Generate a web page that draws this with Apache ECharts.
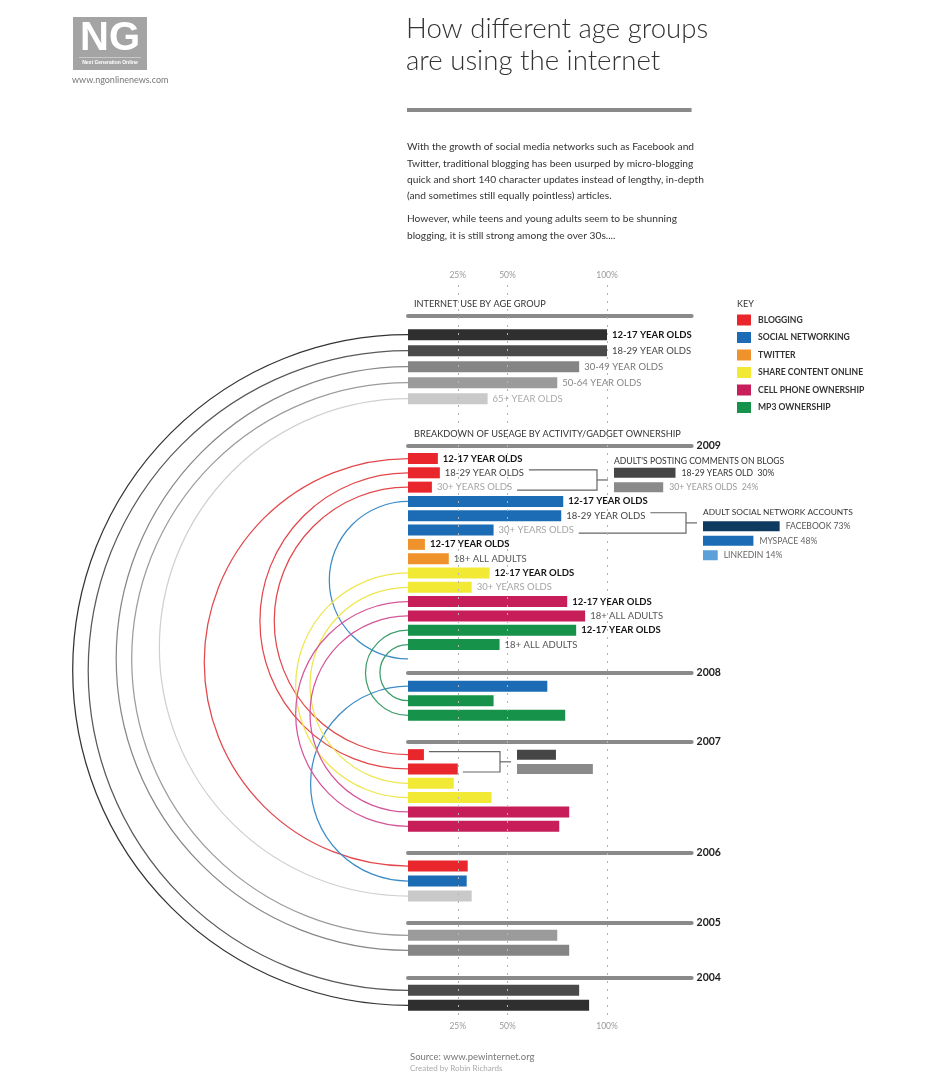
<!DOCTYPE html>
<html><head><meta charset="utf-8">
<script src="https://cdn.jsdelivr.net/npm/echarts@6/dist/echarts.min.js"></script>
<style>html,body{margin:0;padding:0;background:#fff}#c{width:947px;height:1081px}</style>
</head><body><div id="c"></div>
<script>
// ---------------- DATA ----------------
const gridTicks = [25, 50, 100];

const ageGroups = ['12-17 YEAR OLDS','18-29 YEAR OLDS','30-49 YEAR OLDS','50-64 YEAR OLDS','65+ YEAR OLDS'];
const kindsInternet = ['a1217','a1829','a3049','a5064','a65'];
const internetUse = [100, 100, 86, 75, 40];

const activities = ['BLOGGING','SOCIAL NETWORKING','TWITTER','SHARE CONTENT ONLINE','CELL PHONE OWNERSHIP','MP3 OWNERSHIP'];
const activityKinds = ['blog','social','twitter','share','cell','mp3'];

const groups2009 = ['12-17 YEAR OLDS','18-29 YEAR OLDS','30+ YEARS OLDS',
  '12-17 YEAR OLDS','18-29 YEAR OLDS','30+ YEARS OLDS',
  '12-17 YEAR OLDS','18+ ALL ADULTS',
  '12-17 YEAR OLDS','30+ YEARS OLDS',
  '12-17 YEAR OLDS','18+ ALL ADULTS',
  '12-17 YEAR OLDS','18+ ALL ADULTS', ''];
const kinds2009 = ['blog','blog','blog','social','social','social','twitter','twitter','share','share','cell','cell','mp3','mp3', null];
const values2009 = [15, 16, 12, 78, 77, 43, 8.5, 20.5, 41, 32, 80, 89, 84.5, 46, null];

const kinds2008 = ['social','mp3','mp3'];
const values2008 = [70, 43, 79];

const kinds2007 = ['blog','blog','share','share','cell','cell'];
const values2007 = [8, 25, 23, 42, 81, 76];

const kinds2006 = ['blog','social','a65'];
const values2006 = [30, 29.5, 32];

const kinds2005 = ['a5064','a3049'];
const values2005 = [75, 81];

const kinds2004 = ['a1829','a1217'];
const values2004 = [86, 91];

// Adults posting comments on blogs (2009) and the unlabeled 2007 pair
const commentGroups = ['18-29 YEARS OLD','30+ YEARS OLDS'];
const comments2009 = [30, 24];
const comments2007 = [19, 37];

const networkNames = ['FACEBOOK','MYSPACE','LINKEDIN'];
const networkShare = [73, 48, 14];

// links: [fromSection, fromRow, toSection, toRow, kind]
const arcLinks = [
  ['internet',0,'y2004',1,'a1217'],
  ['internet',1,'y2004',0,'a1829'],
  ['internet',2,'y2005',1,'a3049'],
  ['internet',3,'y2005',0,'a5064'],
  ['internet',4,'y2006',2,'a65'],
  ['y2009',0,'y2006',0,'blog'],
  ['y2009',1,'y2007',1,'blog'],
  ['y2009',2,'y2007',0,'blog'],
  ['y2009',3,'y2009',14,'social'],
  ['y2008',0,'y2006',1,'social'],
  ['y2009',8,'y2007',3,'share'],
  ['y2009',9,'y2007',2,'share'],
  ['y2009',10,'y2007',5,'cell'],
  ['y2009',11,'y2007',4,'cell'],
  ['y2009',12,'y2008',2,'mp3'],
  ['y2009',13,'y2008',1,'mp3']
];

// ---------------- STYLE / LAYOUT ----------------
const FONT = 'Lato, "Noto Sans", sans-serif';
const barColor = {a1217:'#2f2f2f', a1829:'#4a4a4a', a3049:'#858585', a5064:'#9b9b9b', a65:'#c9c9c9',
  blog:'#e8262b', social:'#1b6cb5', twitter:'#f0922b', share:'#f2e935', cell:'#c71d59', mp3:'#17924a'};
const arcColor = {a1217:'#333333', a1829:'#595959', a3049:'#878787', a5064:'#9c9c9c', a65:'#d0d0d0',
  blog:'#e3474b', social:'#3d8cc6', share:'#eee64e', cell:'#d4569a', mp3:'#3c9e6c'};
function labelStyle(t){
  if (t.indexOf('12-17') === 0) return {color:'#151515', fontWeight:'bold'};
  if (t.indexOf('18-29') === 0) return {color:'#444', fontWeight:'normal'};
  if (t.indexOf('30-49') === 0) return {color:'#777', fontWeight:'normal'};
  if (t.indexOf('50-64') === 0) return {color:'#888', fontWeight:'normal'};
  if (t.indexOf('65+') === 0) return {color:'#aaa', fontWeight:'normal'};
  if (t.indexOf('18+') === 0) return {color:'#555', fontWeight:'normal'};
  return {color:'#a5a5a5', fontWeight:'normal'};
}
const LABEL_SIZE = 9.5;
const LEFT = 408, X_MAX = 142.5, WIDTH = 283.6;

const sections = [
  {key:'internet', year:'',     kinds:kindsInternet, values:internetUse, labels:ageGroups, top:326.7, step:16.0, lineOffset:10.7},
  {key:'y2009',    year:'2009', kinds:kinds2009, values:values2009, labels:groups2009, top:451.35, step:14.31, lineOffset:5.6},
  {key:'y2008',    year:'2008', kinds:kinds2008, values:values2008, labels:null, top:678.9, step:14.55, lineOffset:6.2},
  {key:'y2007',    year:'2007', kinds:kinds2007, values:values2007, labels:null, top:747.5, step:14.32, lineOffset:6.2},
  {key:'y2006',    year:'2006', kinds:kinds2006, values:values2006, labels:null, top:858.5, step:15, lineOffset:5.8},
  {key:'y2005',    year:'2005', kinds:kinds2005, values:values2005, labels:null, top:927.8, step:15, lineOffset:5.1},
  {key:'y2004',    year:'2004', kinds:kinds2004, values:values2004, labels:null, top:982.8, step:15, lineOffset:5.1}
];
const secIndex = {};
sections.forEach((s,i)=>secIndex[s.key]=i);

const grids = [], xAxes = [], yAxes = [], series = [];

sections.forEach((s, i) => {
  const n = s.values.length;
  grids.push({left:LEFT, top:s.top, width:WIDTH, height:s.step*n});
  xAxes.push({gridIndex:i, type:'value', min:0, max:X_MAX, position:'top', offset:s.lineOffset,
    axisLine:{show:true, lineStyle:{color:'#8a8a8a', width:4}}, axisTick:{show:false}, axisLabel:{show:false}, splitLine:{show:false},
    name:s.year, nameLocation:'end', nameGap:5,
    nameTextStyle:{fontFamily:FONT, fontSize:10.5, fontWeight:'bold', color:'#222', verticalAlign:'middle'}});
  yAxes.push({gridIndex:i, type:'category', inverse:true, data:s.values.map((v,j)=>String(j)), show:false});
  series.push({type:'bar', xAxisIndex:i, yAxisIndex:i, barWidth:11, z:3,
    label:{show:!!s.labels, position:'right', distance:5, fontFamily:FONT, fontSize:LABEL_SIZE,
      formatter: p => s.labels ? (s.labels[p.dataIndex] || '') : ''},
    data: s.values.map((v,j)=>{
      const item = {value:v, itemStyle:{color: s.kinds[j] ? barColor[s.kinds[j]] : 'transparent'}};
      if (s.labels) item.label = labelStyle(s.labels[j]);
      return item;
    })
  });
});

// background grid for the dotted reference lines & scale labels
const BG = grids.length;
grids.push({left:LEFT, top:285, width:WIDTH, height:730});
const tickFmt = v => gridTicks.indexOf(v) >= 0 ? v + '%' : '';
xAxes.push({gridIndex:BG, type:'value', min:0, max:X_MAX, interval:25, position:'top',
  axisLine:{show:false}, axisTick:{show:false}, splitLine:{show:false},
  axisLabel:{formatter:tickFmt, color:'#9a9a9a', fontSize:8.5, fontFamily:FONT, margin:5, showMaxLabel:false}});
xAxes.push({gridIndex:BG, type:'value', min:0, max:X_MAX, interval:25, position:'bottom',
  axisLine:{show:false}, axisTick:{show:false}, splitLine:{show:false},
  axisLabel:{formatter:tickFmt, color:'#9a9a9a', fontSize:8.5, fontFamily:FONT, margin:7, showMaxLabel:false}});
yAxes.push({gridIndex:BG, type:'value', min:0, max:1, show:false});
series.push({type:'line', xAxisIndex:BG, yAxisIndex:BG, data:[], z:1, silent:true,
  markLine:{silent:true, symbol:['none','none'], label:{show:false},
    lineStyle:{type:[2,6], color:'#b5b5b5', width:1},
    data: gridTicks.map(t=>({xAxis:t}))}});
// legend series
activities.forEach((a,i)=>{
  series.push({type:'line', name:a, xAxisIndex:BG, yAxisIndex:BG, data:[],
    itemStyle:{color:barColor[activityKinds[i]]}, lineStyle:{color:barColor[activityKinds[i]]}});
});

// side mini charts
const sideDefs = [
  {key:'blog09', left:614, width:205, top:sections[1].top + sections[1].step, step:sections[1].step,
   names:commentGroups, values:comments2009, sep:'  ', colors:['#464646','#8a8a8a'], labelColors:['#333','#9a9a9a'], labels:true},
  {key:'social09', left:703, width:105, top:519, step:14.5,
   names:networkNames, values:networkShare, sep:' ', colors:['#0f3a5f','#1b6cb5','#5ba0d8'], labelColors:['#555','#666','#666'], labels:true},
  {key:'blog07', left:517, width:205, top:sections[3].top, step:sections[3].step,
   names:commentGroups, values:comments2007, sep:' ', colors:['#464646','#8a8a8a'], labelColors:['#333','#999'], labels:false}
];
const sideIndex = {};
sideDefs.forEach(d=>{
  const gi = grids.length; sideIndex[d.key] = gi;
  grids.push({left:d.left, top:d.top, width:d.width, height:d.step*d.values.length});
  const xi = xAxes.length;
  xAxes.push({gridIndex:gi, type:'value', min:0, max:100, show:false});
  const yi = yAxes.length;
  yAxes.push({gridIndex:gi, type:'category', inverse:true, data:d.names, show:false});
  series.push({type:'bar', xAxisIndex:xi, yAxisIndex:yi, barWidth:10, z:3,
    label:{show:d.labels, position:'right', distance:6, fontFamily:FONT, fontSize:8.6,
      formatter: p => d.names[p.dataIndex] + d.sep + p.value + '%'},
    data:d.values.map((v,j)=>({value:v, itemStyle:{color:d.colors[j]}, label:{color:d.labelColors[j]}}))});
});

const T = (text, left, top, size, color, extra) => Object.assign({text, left, top, padding:0,
  textStyle:Object.assign({fontFamily:FONT, fontSize:size, color, fontWeight:'normal', lineHeight:size+4}, extra||{})});

const para1 = 'With the growth of social media networks such as Facebook and\nTwitter, traditional blogging has been usurped by micro-blogging\nquick and short 140 character updates instead of lengthy, in-depth\n(and sometimes still equally pointless) articles.';
const para2 = 'However, while teens and young adults seem to be shunning\nblogging, it is still strong among the over 30s....';

const option = {
  animation:false,
  textStyle:{fontFamily:FONT},
  title:[
    T('How different age groups\nare using the internet', 406, 13, 27.6, '#333', {fontWeight:300, lineHeight:32}),
    T(para1, 407, 139, 10.2, '#333', {lineHeight:16.3}),
    T(para2, 407, 211, 10.2, '#333', {lineHeight:16.3}),
    T('INTERNET USE BY AGE GROUP', 414, 297.5, 9.2, '#333'),
    T('BREAKDOWN OF USEAGE BY ACTIVITY/GADGET OWNERSHIP', 414, 427, 9.2, '#333'),
    T('KEY', 737, 297.5, 9, '#333'),
    T("ADULT'S POSTING COMMENTS ON BLOGS", 614, 455, 8.6, '#333'),
    T('ADULT SOCIAL NETWORK ACCOUNTS', 703, 506, 8.4, '#333'),
    T('Source: www.pewinternet.org', 410, 1050.5, 9.5, '#777'),
    T('Created by Robin Richards', 410, 1062.5, 8, '#aaa'),
    T('www.ngonlinenews.com', 72, 74, 9, '#777')
  ],
  legend:{orient:'vertical', left:737, top:314.5, padding:0, itemWidth:14, itemHeight:11, itemGap:6.5, icon:'rect',
    selectedMode:false, data:activities,
    textStyle:{fontFamily:FONT, fontSize:8.6, fontWeight:'bold', color:'#333', padding:[0,0,0,2]}},
  grid:grids, xAxis:xAxes, yAxis:yAxes, series:series
};

const chart = echarts.init(document.getElementById('c'));
chart.setOption(option);

// ---------------- arcs & brackets via the axes ----------------
const ctx = document.createElement('canvas').getContext('2d');
function textW(t, weight, size){ ctx.font = weight + ' ' + size + 'px ' + FONT; return ctx.measureText(t).width; }
function rowPx(key, row, value){ return chart.convertToPixel({gridIndex:secIndex[key]}, [value||0, row]); }

const els = [];
// logo
els.push({type:'rect', shape:{x:73, y:17, width:74, height:53}, style:{fill:'#a4a4a4'}});
els.push({type:'text', style:{text:'NG', x:110, y:39, fill:'#fff', font:'bold 40px "Liberation Sans", Arial, sans-serif', align:'center', verticalAlign:'middle'}});
els.push({type:'line', shape:{x1:79, y1:57.5, x2:141, y2:57.5}, style:{stroke:'#c8c8c8', lineWidth:1}});
els.push({type:'text', style:{text:'Next Generation Online', x:110, y:62.5, fill:'#fff', font:'bold 5px "Liberation Sans", Arial, sans-serif', align:'center', verticalAlign:'middle'}});
// title rule
els.push({type:'line', shape:{x1:407, y1:110, x2:691.6, y2:110}, style:{stroke:'#8a8a8a', lineWidth:4}});

arcLinks.forEach(l=>{
  const a = rowPx(l[0], l[1]), b = rowPx(l[2], l[3]);
  const cy = (a[1]+b[1])/2, r = Math.abs(b[1]-a[1])/2;
  els.push({type:'arc', z:1, silent:true,
    shape:{cx:a[0], cy:cy, r:r, startAngle:Math.PI/2, endAngle:Math.PI*1.5, clockwise:true},
    style:{stroke:arcColor[l[4]], lineWidth:1.25, fill:'none'}});
});

const brackets = [
  {sec:'y2009', rows:[1,2], side:'blog09'},
  {sec:'y2009', rows:[4,5], side:'social09'},
  {sec:'y2007', rows:[0,1], side:'blog07'}
];
brackets.forEach(b=>{
  const s = sections[secIndex[b.sec]];
  const sideLeft = chart.convertToPixel({gridIndex:sideIndex[b.side]}, [0,0])[0];
  const xv = sideLeft - 17, xs = sideLeft - 6;
  const pts = b.rows.map((r,k)=>{
    const p = rowPx(b.sec, r, s.values[r]);
    let end = p[0];
    if (s.labels){ const st = labelStyle(s.labels[r]); end += 5 + textW(s.labels[r], st.fontWeight, LABEL_SIZE); }
    return [end + 5, p[1] + (k===0 ? -3 : 3)];
  });
  els.push({type:'polyline', silent:true, shape:{points:[pts[0], [xv, pts[0][1]], [xv, pts[1][1]], pts[1]]},
    style:{stroke:'#666', lineWidth:1.2, fill:'none'}});
  const ym = (pts[0][1]+pts[1][1])/2;
  els.push({type:'line', silent:true, shape:{x1:xv, y1:ym, x2:xs, y2:ym}, style:{stroke:'#666', lineWidth:1.2}});
});

chart.setOption({graphic:{elements:els}});
</script>
</body></html>
